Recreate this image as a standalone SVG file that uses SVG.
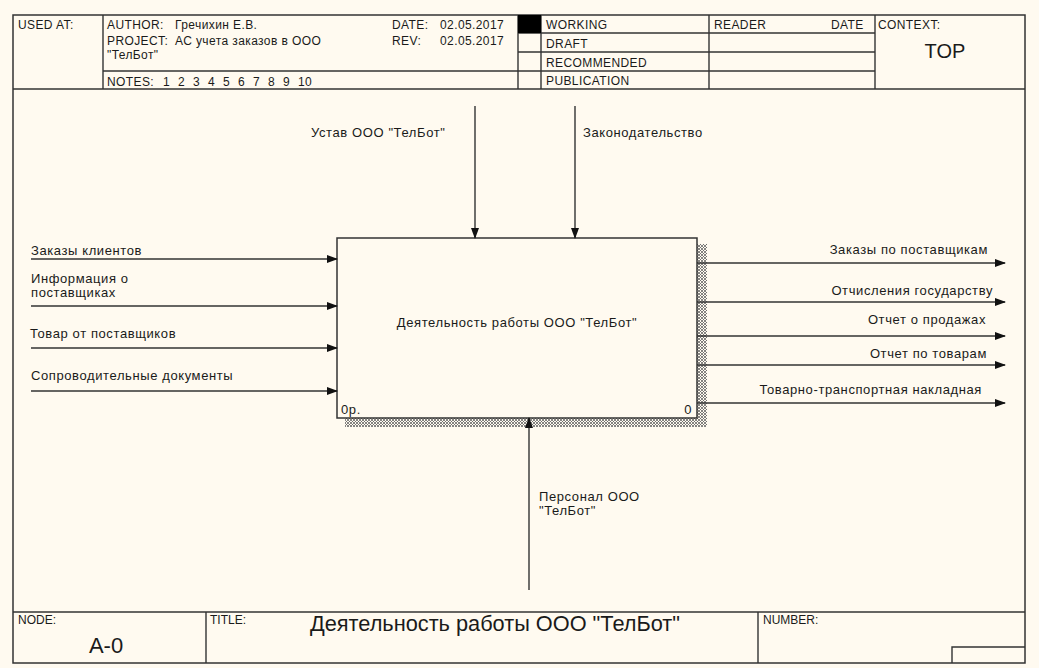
<svg xmlns="http://www.w3.org/2000/svg" width="1039" height="668" viewBox="0 0 1039 668">
<style>
text{font-family:"Liberation Sans",Arial,sans-serif;fill:#1a1a1a}
.h{font-size:12px;letter-spacing:0.4px}
.s{font-size:12px}
.l{font-size:13px;letter-spacing:0.6px}
.fr{fill:none;stroke:#333;stroke-width:1.5}
.ln{fill:none;stroke:#333;stroke-width:1.4}
.ar{stroke:#333;stroke-width:1.4;fill:none;marker-end:url(#ah)}
</style>
<defs>
<marker id="ah" markerWidth="11" markerHeight="8" refX="10" refY="4" orient="auto" markerUnits="userSpaceOnUse">
<path d="M0,0 L11,4 L0,8 z" fill="#111"/>
</marker>
<pattern id="hatch" width="3" height="3" patternUnits="userSpaceOnUse">
<rect width="3" height="3" fill="#fffaf0"/>
<path d="M0,0 L3,3 M3,0 L0,3" stroke="#666" stroke-width="0.8"/>
</pattern>
</defs>
<rect width="1039" height="668" fill="#fffaf0"/>
<g id="frame">
<rect x="13" y="15" width="1012" height="648" class="fr"/>
<line x1="13" y1="89" x2="1025" y2="89" class="fr"/>
<line x1="13" y1="612" x2="1025" y2="612" class="fr"/>
<line x1="103" y1="15" x2="103" y2="89" class="ln"/>
<line x1="103" y1="71" x2="518" y2="71" class="ln"/>
<line x1="518" y1="15" x2="518" y2="89" class="ln"/>
<line x1="541" y1="15" x2="541" y2="89" class="ln"/>
<line x1="709" y1="15" x2="709" y2="89" class="ln"/>
<line x1="875" y1="15" x2="875" y2="89" class="ln"/>
<line x1="518" y1="33" x2="875" y2="33" class="ln"/>
<line x1="518" y1="52" x2="875" y2="52" class="ln"/>
<line x1="518" y1="71" x2="875" y2="71" class="ln"/>
<rect x="518" y="15" width="23" height="18" fill="#000"/>
<text x="18" y="29" class="h">USED AT:</text>
<text x="107" y="29" class="h">AUTHOR:</text>
<text x="175" y="29" class="h">Гречихин Е.В.</text>
<text x="107" y="45" class="h">PROJECT:</text>
<text x="175" y="45" class="h">АС учета заказов в ООО</text>
<text x="107" y="59" class="h">"ТелБот"</text>
<text x="107" y="86" class="h">NOTES:</text>
<g class="h">
<text x="163" y="86" class="h">1</text><text x="178" y="86" class="h">2</text><text x="193" y="86" class="h">3</text><text x="208" y="86" class="h">4</text><text x="223" y="86" class="h">5</text><text x="238" y="86" class="h">6</text><text x="253" y="86" class="h">7</text><text x="268" y="86" class="h">8</text><text x="283" y="86" class="h">9</text><text x="298" y="86" class="h">10</text>
</g>
<text x="392" y="29" class="h">DATE:</text>
<text x="440" y="29" class="h">02.05.2017</text>
<text x="392" y="45" class="h">REV:</text>
<text x="440" y="45" class="h">02.05.2017</text>
<text x="546" y="29" class="h">WORKING</text>
<text x="546" y="48" class="h">DRAFT</text>
<text x="546" y="67" class="h">RECOMMENDED</text>
<text x="546" y="85" class="h">PUBLICATION</text>
<text x="714" y="29" class="h">READER</text>
<text x="831" y="29" class="h">DATE</text>
<text x="878" y="29" class="h">CONTEXT:</text>
<text x="945" y="58" font-size="20" text-anchor="middle">TOP</text>
<line x1="206" y1="612" x2="206" y2="663" class="ln"/>
<line x1="758" y1="612" x2="758" y2="663" class="ln"/>
<polyline points="952,663 952,647 1025,647" class="ln"/>
<text x="18" y="624" class="s">NODE:</text>
<text x="106" y="653" font-size="22" text-anchor="middle">A-0</text>
<text x="210" y="624" class="s">TITLE:</text>
<text x="310" y="631" font-size="22" textLength="370" lengthAdjust="spacingAndGlyphs">Деятельность работы ООО "ТелБот"</text>
<text x="763" y="624" class="s">NUMBER:</text>
</g>
<g id="node-A0">
<rect x="345" y="418" width="362" height="9" fill="url(#hatch)"/>
<rect x="697" y="244" width="10" height="183" fill="url(#hatch)"/>
<rect x="337" y="238" width="360" height="180" fill="#fffaf0" stroke="#333" stroke-width="1.5"/>
<text x="517" y="327" class="l" text-anchor="middle">Деятельность работы ООО "ТелБот"</text>
<text x="341" y="414" class="l">0р.</text>
<text x="692" y="414" class="l" text-anchor="end">0</text>
</g>
<g id="connectors">
<line x1="31" y1="259" x2="337" y2="259" class="ar"/>
<line x1="31" y1="306" x2="337" y2="306" class="ar"/>
<line x1="31" y1="348" x2="337" y2="348" class="ar"/>
<line x1="31" y1="391" x2="337" y2="391" class="ar"/>
<line x1="697" y1="263" x2="1005" y2="263" class="ar"/>
<line x1="697" y1="302" x2="1005" y2="302" class="ar"/>
<line x1="697" y1="336" x2="1005" y2="336" class="ar"/>
<line x1="697" y1="365" x2="1005" y2="365" class="ar"/>
<line x1="697" y1="403" x2="1005" y2="403" class="ar"/>
<line x1="475" y1="106" x2="475" y2="238" class="ar"/>
<line x1="575" y1="106" x2="575" y2="238" class="ar"/>
<line x1="529" y1="590" x2="529" y2="418" class="ar"/>
<text x="31" y="255" class="l">Заказы клиентов</text>
<text x="31" y="283" class="l">Информация о</text>
<text x="31" y="297" class="l">поставщиках</text>
<text x="30" y="338" class="l">Товар от поставщиков</text>
<text x="31" y="380" class="l">Сопроводительные документы</text>
<text x="988" y="254" class="l" text-anchor="end">Заказы по поставщикам</text>
<text x="993" y="295" class="l" text-anchor="end">Отчисления государству</text>
<text x="986" y="324" class="l" text-anchor="end">Отчет о продажах</text>
<text x="987" y="358" class="l" text-anchor="end">Отчет по товарам</text>
<text x="982" y="394" class="l" text-anchor="end">Товарно-транспортная накладная</text>
<text x="311" y="137" class="l">Устав ООО "ТелБот"</text>
<text x="583" y="137" class="l">Законодательство</text>
<text x="539" y="501" class="l">Персонал ООО</text>
<text x="539" y="515" class="l">"ТелБот"</text>
</g>
</svg>
